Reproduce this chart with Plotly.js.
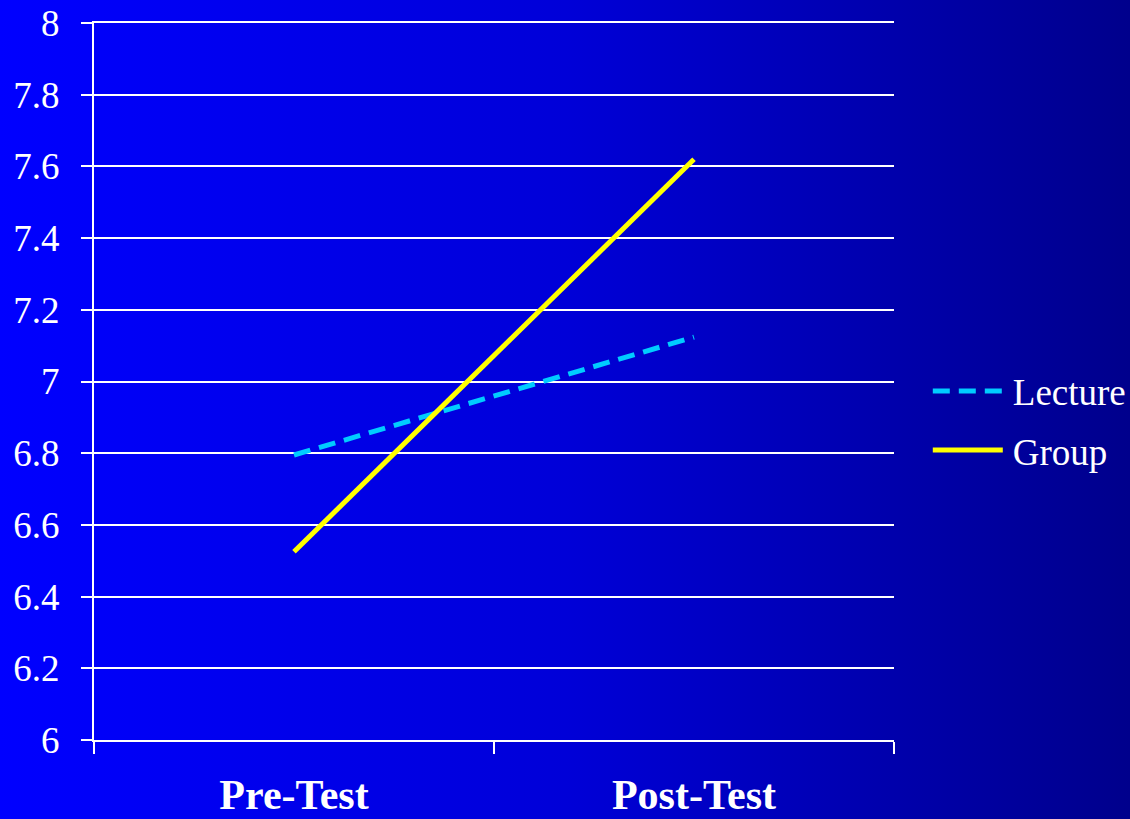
<!DOCTYPE html>
<html>
<head>
<meta charset="utf-8">
<script src="https://cdn.plot.ly/plotly-3.0.1.min.js"></script>
<style>
  html, body { margin: 0; padding: 0; }
  #chart { width: 1130px; height: 819px;
    background: linear-gradient(to right, #0000ff 0%, #0000d8 50%, #00008c 100%); }
</style>
</head>
<body>
<div id="chart"></div>
<script>
const categories = ["Pre-Test", "Post-Test"];
const lectureValues = [6.795, 7.124];
const groupValues = [6.525, 7.62];
const yTickValues = [6, 6.2, 6.4, 6.6, 6.8, 7, 7.2, 7.4, 7.6, 7.8, 8];
const yTickLabels = ["6", "6.2", "6.4", "6.6", "6.8", "7", "7.2", "7.4", "7.6", "7.8", "8"];

const traces = [
  { x: categories, y: lectureValues, name: "Lecture", type: "scatter", mode: "lines",
    legendgroup: "a", line: { color: "#00ccff", width: 5, dash: "17px,9px" } },
  { x: categories, y: groupValues, name: "Group", type: "scatter", mode: "lines",
    legendgroup: "b", line: { color: "#ffff00", width: 5 } }
];

const layout = {
  width: 1130, height: 819,
  paper_bgcolor: "rgba(0,0,0,0)", plot_bgcolor: "rgba(0,0,0,0)",
  margin: { l: 94, r: 236, t: 23, b: 79, autoexpand: false },
  font: { family: "Liberation Serif, Times New Roman, serif", color: "#ffffff", size: 37 },
  showlegend: true,
  legend: { x: 1.046, xanchor: "left", y: 0.445, yanchor: "middle", traceorder: "grouped",
    itemwidth: 72, bgcolor: "rgba(0,0,0,0)", font: { size: 37, color: "#ffffff" }, tracegroupgap: 8 },
  xaxis: {
    type: "category", range: [-0.5, 1.5], tickson: "boundaries",
    ticks: "outside", ticklen: 12, tickwidth: 2, tickcolor: "#ffffff",
    showline: true, mirror: true, linecolor: "#ffffff", linewidth: 2, showgrid: false, zeroline: false,
    ticklabelstandoff: 17, automargin: false,
    tickfont: { size: 42, family: "Liberation Serif, Times New Roman, serif", weight: "bold", color: "#ffffff" }
  },
  yaxis: {
    range: [6, 8], tickvals: yTickValues, ticktext: yTickLabels,
    ticks: "outside", ticklen: 11, tickwidth: 2, tickcolor: "#ffffff",
    showline: true, linecolor: "#ffffff", linewidth: 2, ticklabelstandoff: 14, automargin: false,
    showgrid: true, gridcolor: "#ffffff", gridwidth: 2, zeroline: false,
    tickfont: { size: 37, color: "#ffffff" }
  }
};

function stretchLegendLines() {
  document.querySelectorAll("#chart .legend .legendlines path").forEach(function (p) {
    p.setAttribute("d", "M2,0h70");
  });
}

Plotly.newPlot("chart", traces, layout, { displayModeBar: false, staticPlot: true }).then(function (gd) {
  stretchLegendLines();
  gd.on("plotly_afterplot", stretchLegendLines);
});
</script>
</body>
</html>
